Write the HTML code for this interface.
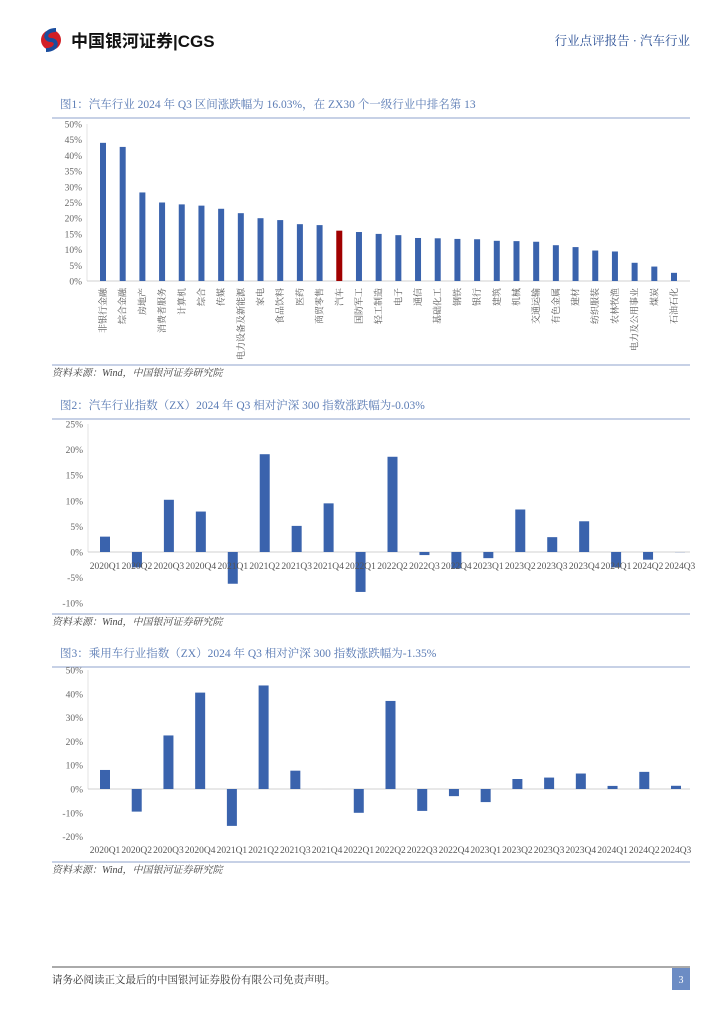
<!DOCTYPE html>
<html><head><meta charset="utf-8"><style>
body{margin:0;background:#fff;}
svg{display:block;font-family:"Liberation Serif","Noto Serif CJK SC",serif;}
</style></head><body>
<svg id="page" width="724" height="1024" viewBox="0 0 724 1024" xmlns="http://www.w3.org/2000/svg">
<g>
  <g>
    <circle cx="51" cy="40" r="10" fill="#d21f26"/>
    <path d="M56 30 C44 30 44 40 51 40 C58 40 58 50 46 50" stroke="#1a4d9e" stroke-width="4" fill="none"/>
  </g>
  <text x="71" y="47" font-size="17" font-weight="bold" fill="#111" font-family="Liberation Sans, Noto Sans CJK SC, sans-serif">中国银河证券|CGS</text>
  <text x="690" y="45" font-size="12.5" fill="#2a4f95" text-anchor="end">行业点评报告 · 汽车行业</text>
</g>
<g id="c1"></g>
<g id="c2"></g>
<g id="c3"></g>
<g>
  <line x1="52" y1="967" x2="690" y2="967" stroke="#555" stroke-width="1"/>
  <text x="52" y="983" font-size="10.5" fill="#333">请务必阅读正文最后的中国银河证券股份有限公司免责声明。</text>
  <rect x="672" y="968" width="18" height="22" fill="#6c8cc4"/>
  <text x="681" y="983" font-size="10" fill="#fff" text-anchor="middle">3</text>
</g>
</svg>
<script>
const c1Categories=["非银行金融","综合金融","房地产","消费者服务","计算机","综合","传媒","电力设备及新能源","家电","食品饮料","医药","商贸零售","汽车","国防军工","轻工制造","电子","通信","基础化工","钢铁","银行","建筑","机械","交通运输","有色金属","建材","纺织服装","农林牧渔","电力及公用事业","煤炭","石油石化"];
const c1Values=[44.0,42.7,28.2,25.0,24.4,24.0,23.0,21.6,20.0,19.4,18.1,17.8,16.03,15.6,15.0,14.6,13.7,13.6,13.4,13.3,12.8,12.7,12.5,11.4,10.8,9.7,9.4,5.8,4.6,2.6];
const c1Ticks=[0,5,10,15,20,25,30,35,40,45,50];
const quarters=["2020Q1","2020Q2","2020Q3","2020Q4","2021Q1","2021Q2","2021Q3","2021Q4","2022Q1","2022Q2","2022Q3","2022Q4","2023Q1","2023Q2","2023Q3","2023Q4","2024Q1","2024Q2","2024Q3"];
const c2Values=[3.0,-3.0,10.2,7.9,-6.2,19.1,5.1,9.5,-7.8,18.6,-0.6,-3.2,-1.2,8.3,2.9,6.0,-3.0,-1.5,-0.03];
const c2Ticks=[-10,-5,0,5,10,15,20,25];
const c3Values=[8.0,-9.5,22.5,40.5,-15.5,43.5,7.7,0,-10.0,37.0,-9.2,-3.0,-5.5,4.2,4.8,6.5,1.3,7.2,1.35];
const c3Ticks=[-20,-10,0,10,20,30,40,50];

const NS="http://www.w3.org/2000/svg";
function mk(parent,tag,attrs,text){const e=document.createElementNS(NS,tag);for(const k in attrs)e.setAttribute(k,attrs[k]);if(text!==undefined)e.textContent=text;parent.appendChild(e);return e;}

function chart(g,o){
  const t=mk(g,'text',{x:o.left,y:o.titleY,'font-size':11.5,fill:'#5b7cb5'},o.title);
  
  
  mk(g,'line',{x1:52,y1:o.titleY+10,x2:690,y2:o.titleY+10,stroke:'#8fa3cc'});
  mk(g,'line',{x1:52,y1:o.bottomY,x2:690,y2:o.bottomY,stroke:'#8fa3cc'});
  const y=v=>o.y0+(v-o.min)/(o.max-o.min)*(o.y1-o.y0);
  const x=i=>o.x0+i*(o.x1-o.x0)/(o.n-1);
  mk(g,'line',{x1:o.axisX,y1:y(o.max),x2:o.axisX,y2:y(o.min),stroke:'#e3e3e3'});
  o.ticks.forEach(v=>{
    const tl=mk(g,'text',{x:o.axisX-5,y:y(v)+3.5,'font-size':9.5,fill:'#666','text-anchor':'end'},v+'%');
    
    
  });
  mk(g,'line',{x1:o.axisX,y1:y(0),x2:690,y2:y(0),stroke:'#d0d0d0'});
  o.values.forEach((v,i)=>{
    const top=Math.min(y(v),y(0)),h=Math.abs(y(v)-y(0));
    const r=mk(g,'rect',{x:x(i)-o.bw/2,y:top,width:o.bw,height:Math.max(h,0.01),fill:(o.red===i)?'#a00000':'#3a63ad'});
    
    
  });
  o.cats.forEach((c,i)=>{
    let l;
    if(o.rot){l=mk(g,'text',{x:0,y:0,'font-size':9,fill:'#555','text-anchor':'end',transform:`translate(${x(i)+3},${y(0)+7}) rotate(-90)`},c);}
    else{l=mk(g,'text',{x:x(i),y:o.labelY,'font-size':9.5,fill:'#555','text-anchor':'middle'},c);}
    
    
  });
  const s=mk(g,'text',{x:52,y:o.bottomY+11,'font-size':10,fill:'#444','font-style':'italic'},'资料来源：Wind，中国银河证券研究院');
  
  
}
chart(document.getElementById('c1'),{title:'图1：汽车行业 2024 年 Q3 区间涨跌幅为 16.03%，在 ZX30 个一级行业中排名第 13',titleY:108,left:60,bottomY:365,
 min:0,max:50,y0:281,y1:124,x0:103,x1:674,n:30,axisX:87,bw:6,values:c1Values,cats:c1Categories,ticks:c1Ticks,rot:true,red:12});
chart(document.getElementById('c2'),{title:'图2：汽车行业指数（ZX）2024 年 Q3 相对沪深 300 指数涨跌幅为-0.03%',titleY:409,left:60,bottomY:614,
 min:0,max:25,y0:552,y1:424,x0:105,x1:680,n:19,axisX:88,bw:10,values:c2Values,cats:quarters,ticks:c2Ticks,rot:false,labelY:569});
chart(document.getElementById('c3'),{title:'图3：乘用车行业指数（ZX）2024 年 Q3 相对沪深 300 指数涨跌幅为-1.35%',titleY:657,left:60,bottomY:862,
 min:0,max:50,y0:789,y1:670,x0:105,x1:676,n:19,axisX:88,bw:10,values:c3Values,cats:quarters,ticks:c3Ticks,rot:false,labelY:853});
</script>
</body></html>
